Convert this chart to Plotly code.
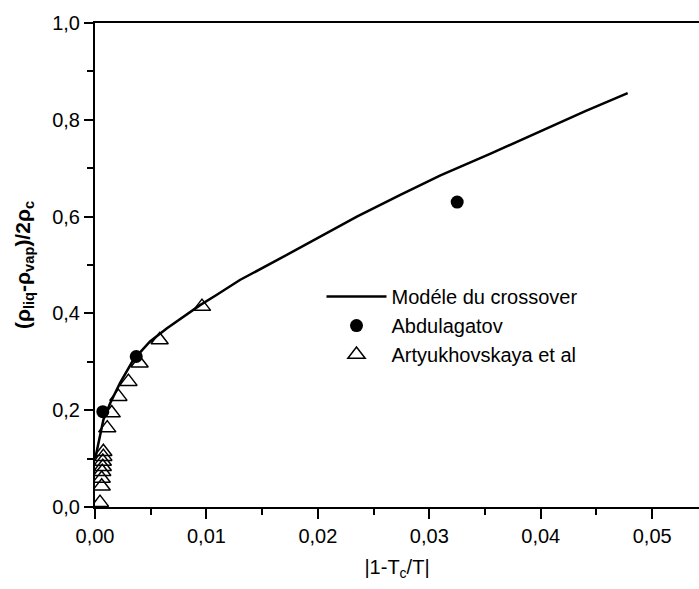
import plotly.graph_objects as go

# Crossover model curve
model_x = [0.00002, 0.00045, 0.00075, 0.00135, 0.00224, 0.00344, 0.00494, 0.00643,
           0.00793, 0.00943, 0.0109, 0.0130, 0.0165, 0.0200, 0.0235, 0.0274,
           0.0310, 0.0355, 0.0400, 0.0440, 0.0478]
model_y = [0.100, 0.149, 0.180, 0.214, 0.256, 0.304, 0.342, 0.369,
           0.393, 0.417, 0.438, 0.469, 0.512, 0.556, 0.600, 0.645,
           0.685, 0.730, 0.777, 0.818, 0.855]

# Abdulagatov
abd_x = [0.0007, 0.0037, 0.0325]
abd_y = [0.197, 0.311, 0.630]

# Artyukhovskaya et al
art_x = [0.00045, 0.0006, 0.0006, 0.00065, 0.0007, 0.0007, 0.00075, 0.00075,
         0.0011, 0.0015, 0.0021, 0.0030, 0.0040, 0.0058, 0.0096]
art_y = [0.009, 0.043, 0.059, 0.073, 0.083, 0.094, 0.104, 0.114,
         0.163, 0.194, 0.228, 0.259, 0.297, 0.345, 0.414]

FONT = "Liberation Sans, Arial, sans-serif"

fig = go.Figure()
fig.add_trace(go.Scatter(x=model_x, y=model_y, mode="lines",
                         line=dict(color="black", width=2.5),
                         name="Modéle du crossover"))
fig.add_trace(go.Scatter(x=abd_x, y=abd_y, mode="markers",
                         marker=dict(symbol="circle", size=13, color="black"),
                         name="Abdulagatov"))
fig.add_trace(go.Scatter(x=art_x, y=art_y, mode="markers",
                         marker=dict(symbol="triangle-up-open", size=15, color="black",
                                     line=dict(width=1.5, color="black")),
                         name="Artyukhovskaya et al"))

fig.update_layout(
    width=699, height=589,
    margin=dict(l=95, r=0, t=23, b=82),
    plot_bgcolor="white", paper_bgcolor="white",
    separators=", ",
    font=dict(family=FONT, size=20, color="black"),
    showlegend=True,
    legend=dict(x=0.375, y=0.475, xanchor="left", yanchor="top",
                bgcolor="rgba(0,0,0,0)", font=dict(size=20, family=FONT),
                itemwidth=60, tracegroupgap=0),
    xaxis=dict(range=[0, 0.0542], tickvals=[0, 0.01, 0.02, 0.03, 0.04, 0.05],
               tickformat=".2f", showgrid=False, zeroline=False,
               showline=True, linecolor="black", linewidth=2, mirror=True,
               ticks="outside", ticklen=10, tickwidth=2, tickcolor="black",
               minor=dict(dtick=0.005, tick0=0, ticks="outside", ticklen=6,
                          tickwidth=2, tickcolor="black"),
               tickfont=dict(size=20, family=FONT),
               title=dict(text="|1-T<sub>c</sub>/T|", font=dict(size=20, family=FONT),
                          standoff=14)),
    yaxis=dict(range=[0, 1], tickvals=[0, 0.2, 0.4, 0.6, 0.8, 1.0],
               tickformat=".1f", showgrid=False, zeroline=False,
               showline=True, linecolor="black", linewidth=2,
               ticks="outside", ticklen=9, tickwidth=2, tickcolor="black",
               minor=dict(dtick=0.1, tick0=0, ticks="outside", ticklen=6,
                          tickwidth=2, tickcolor="black"),
               tickfont=dict(size=20, family=FONT),
               title=dict(text="<b>(ρ<sub>liq</sub>-ρ<sub>vap</sub>)/2ρ<sub>c</sub></b>",
                          font=dict(size=21, family=FONT), standoff=16)),
)

fig.write_html("out.html")
